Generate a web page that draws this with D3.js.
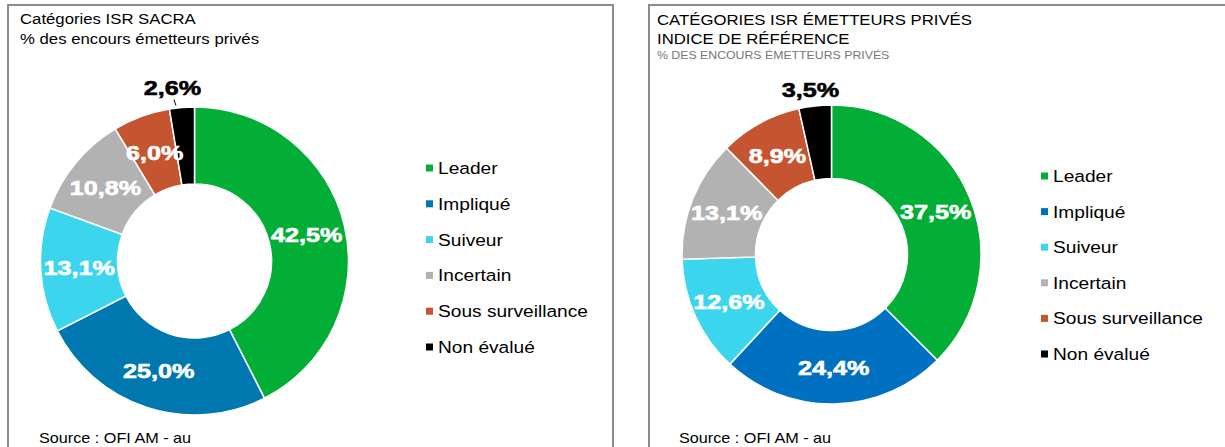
<!DOCTYPE html>
<html lang="fr">
<head>
    <meta charset="utf-8">
    <title>Catégories ISR</title>
    <script src="https://d3js.org/d3.v7.min.js"></script>
    <style>
    html, body {
        margin: 0;
        background-color: white;
    }
    svg {
        font-family: Arial, 'Liberation Sans', sans-serif;
        display: block;
    }
    .panel {
        fill: none;
        stroke: #8c8c8c;
        stroke-width: 2;
    }
    </style>
</head>
<body>
<div id="vis"></div>
<script>
// data
var categories = ['Leader', 'Impliqué', 'Suiveur', 'Incertain', 'Sous surveillance', 'Non évalué'];
var sacraValues = [42.5, 25.0, 13.1, 10.8, 6.0, 2.6];
var indexValues = [37.5, 24.4, 12.6, 13.1, 8.9, 3.5];
var sacraColors = ['#03ae36', '#0077ae', '#3bd5ee', '#b2b2b2', '#c45530', '#000000'];
var indexColors = ['#03ae36', '#0070c0', '#3bd5ee', '#b2b2b2', '#c45530', '#000000'];
var sacraTitles = ['Catégories ISR SACRA', '% des encours émetteurs privés'];
var indexTitles = ['CATÉGORIES ISR ÉMETTEURS PRIVÉS', 'INDICE DE RÉFÉRENCE', '% DES ENCOURS ÉMETTEURS PRIVÉS'];
var sourceText = 'Source : OFI AM - au';

var width = 1225;
var height = 447;

var svg = d3.select('#vis')
    .append('svg')
    .attr('width', width)
    .attr('height', height);

var fmt = function(v) {
    return d3.format('.1f')(v).replace('.', ',') + '%';
};

// text squeezed out a little wider, like the original export
function addText(g, x, y, str, size, opts) {
    opts = opts || {};
    var t = g.append('text')
        .attr('transform', 'translate(' + x + ',' + y + ') scale(' + (opts.sx || 1.1) + ',1)')
        .attr('text-anchor', opts.anchor || 'start')
        .attr('font-size', size + 'px')
        .attr('font-weight', opts.bold ? 'bold' : 'normal')
        .attr('fill', opts.fill || '#000')
        .text(str);
    if (opts.bold) {
        // heavier, like the original labels
        t.attr('stroke', opts.fill || '#000').attr('stroke-width', 0.6);
    }
    return t;
}

function drawPanel(cfg) {
    var g = svg.append('g');

    g.append('rect')
        .attr('class', 'panel')
        .attr('x', cfg.box[0])
        .attr('y', cfg.box[1])
        .attr('width', cfg.box[2])
        .attr('height', cfg.box[3]);

    cfg.titles.forEach(function(t, i) {
        var small = cfg.smallLast && i === cfg.titles.length - 1;
        addText(g, cfg.titleX, cfg.titleY[i], t, small ? 11 : 15.5,
            { fill: small ? '#777' : '#000', sx: small ? 1.12 : 1.08 });
    });

    var pie = d3.pie().sort(null).value(function(d) { return d; });
    var arcs = pie(cfg.values);

    var arc = d3.arc()
        .innerRadius(cfg.inner)
        .outerRadius(cfg.outer);

    var chart = g.append('g')
        .attr('transform', 'translate(' + cfg.cx + ',' + cfg.cy + ')');

    chart.selectAll('path')
        .data(arcs)
        .enter()
        .append('path')
        .attr('d', arc)
        .attr('fill', function(d, i) { return cfg.colors[i]; })
        .attr('stroke', 'white')
        .attr('stroke-width', 1.5);

    var last = arcs.length - 1;
    arcs.forEach(function(d, i) {
        if (i === last) return;
        var c = arc.centroid(d);
        addText(chart, c[0], c[1] + 7.5, fmt(d.data), 21, { bold: true, fill: '#fff', anchor: 'middle', sx: 1.2 });
    });

    // the small black slice gets its label outside
    var a = (arcs[last].startAngle + arcs[last].endAngle) / 2;
    var px = Math.sin(a) * cfg.outer;
    var py = -Math.cos(a) * cfg.outer;
    if (cfg.leader) {
        chart.append('line')
            .attr('x1', px - 6).attr('y1', py - 2)
            .attr('x2', px - 8).attr('y2', py - 8)
            .attr('stroke', '#000')
            .attr('stroke-width', 1);
    }
    addText(g, cfg.outX, cfg.outY, fmt(arcs[last].data), 21, { bold: true, anchor: 'middle', sx: 1.2 });

    // legend
    var legend = g.selectAll('.legend')
        .data(categories)
        .enter()
        .append('g')
        .attr('transform', function(d, i) {
            return 'translate(' + cfg.legX + ',' + (cfg.legY + i * cfg.legStep) + ')';
        });

    legend.append('rect')
        .attr('x', 0)
        .attr('y', -3.5)
        .attr('width', 7)
        .attr('height', 7)
        .attr('fill', function(d, i) { return cfg.colors[i]; });

    legend.each(function(d) {
        addText(d3.select(this), 12, 6, d, 16.5, { sx: 1.16 });
    });

    addText(g, cfg.srcX, 443, sourceText, 15, { sx: 1.08 });
}

drawPanel({
    box: [8, 5, 605, 460],
    titles: sacraTitles,
    titleX: 20,
    titleY: [24, 44],
    smallLast: false,
    values: sacraValues,
    colors: sacraColors,
    cx: 194.5,
    cy: 261,
    outer: 154,
    inner: 77,
    outX: 172.5,
    outY: 95,
    leader: true,
    legX: 426,
    legY: 168,
    legStep: 35.8,
    srcX: 39
});

drawPanel({
    box: [649, 5, 600, 460],
    titles: indexTitles,
    titleX: 657,
    titleY: [25, 44, 59],
    smallLast: true,
    values: indexValues,
    colors: indexColors,
    cx: 831.5,
    cy: 254.5,
    outer: 149.5,
    inner: 76,
    outX: 810.5,
    outY: 97,
    leader: false,
    legX: 1041,
    legY: 176,
    legStep: 35.6,
    srcX: 679
});
</script>
</body>
</html>
